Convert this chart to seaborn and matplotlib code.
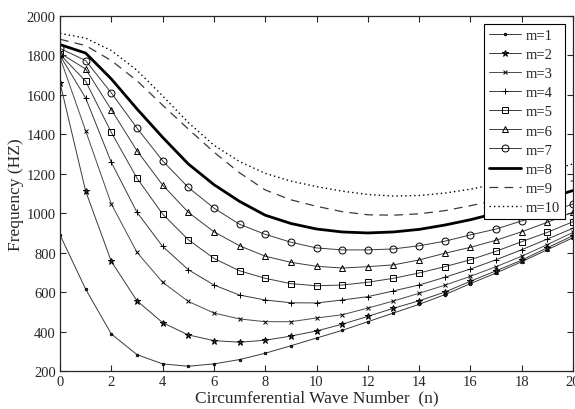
import pandas as pd
import matplotlib
matplotlib.use("Agg")
import matplotlib.pyplot as plt
import seaborn as sns

# circumferential wave number
n = list(range(21))

# natural frequencies (Hz) for each axial mode m
m1 = [890, 615, 388, 283, 236, 224, 236, 258, 290, 328, 367, 406, 450, 494, 538, 587, 643, 697, 754, 815, 876]
m2 = [1662, 1112, 756, 556, 445, 383, 354, 346, 356, 377, 403, 437, 477, 518, 556, 600, 655, 708, 762, 825, 886]
m3 = [1790, 1418, 1047, 802, 650, 553, 494, 464, 450, 450, 469, 485, 519, 555, 594, 635, 680, 729, 782, 841, 903]
m4 = [1800, 1584, 1258, 1005, 832, 714, 636, 585, 560, 546, 545, 560, 577, 606, 636, 675, 717, 764, 815, 869, 924]
m5 = [1806, 1669, 1410, 1178, 996, 866, 771, 708, 670, 643, 632, 636, 650, 670, 697, 729, 764, 807, 856, 903, 957]
m6 = [1812, 1731, 1525, 1317, 1143, 1005, 906, 835, 782, 751, 731, 722, 729, 738, 763, 797, 827, 863, 906, 954, 1005]
m7 = [1836, 1774, 1610, 1432, 1266, 1131, 1026, 944, 893, 853, 824, 814, 814, 819, 835, 858, 890, 920, 961, 1001, 1047]
m8 = [1855, 1812, 1681, 1529, 1385, 1250, 1145, 1060, 990, 948, 920, 905, 900, 905, 918, 940, 967, 1000, 1035, 1075, 1115]
m9 = [1882, 1850, 1774, 1672, 1548, 1427, 1310, 1205, 1118, 1068, 1035, 1008, 992, 990, 997, 1013, 1038, 1066, 1097, 1130, 1165]
m10 = [1912, 1888, 1825, 1725, 1595, 1460, 1345, 1262, 1202, 1163, 1135, 1112, 1095, 1087, 1090, 1102, 1122, 1148, 1178, 1212, 1250]

labels = ["m=1", "m=2", "m=3", "m=4", "m=5", "m=6", "m=7", "m=8", "m=9", "m=10"]
series = [m1, m2, m3, m4, m5, m6, m7, m8, m9, m10]

# long-form table
df = pd.concat([pd.DataFrame({"n": n, "freq": s, "m": lab}) for lab, s in zip(labels, series)])

sns.set_style("ticks")
plt.rcParams["font.family"] = ["Liberation Serif", "DejaVu Serif"]

fig = plt.figure(figsize=(5.75, 4.10), dpi=100)
ax = fig.add_axes([60 / 575, 38 / 410, 513 / 575, 355 / 410])

styles = {
    "m=1": dict(marker=".", markersize=3.5, color="#3a3a3a", lw=0.7),
    "m=2": dict(marker="*", markersize=4.5, color="#3a3a3a", lw=0.7),
    "m=3": dict(marker="x", markersize=3, color="#4a4a4a", lw=0.7),
    "m=4": dict(marker="+", markersize=5, color="#3a3a3a", lw=0.7),
    "m=5": dict(marker="s", markersize=4.5, color="#3a3a3a", lw=0.7, mfc="none"),
    "m=6": dict(marker="^", markersize=5, color="#3a3a3a", lw=0.7, mfc="none"),
    "m=7": dict(marker="o", markersize=5, color="#3a3a3a", lw=0.7, mfc="none"),
    "m=8": dict(marker=None, color="black", lw=2.0),
    "m=9": dict(marker=None, color="#3a3a3a", lw=0.9, linestyle=(0, (7, 5))),
    "m=10": dict(marker=None, color="black", lw=1.0, linestyle=(0, (1, 2.2))),
}

for lab in labels:
    st = styles[lab]
    sub = df[df["m"] == lab]
    kw = dict(color=st["color"], linewidth=st["lw"], label=lab)
    if st["marker"]:
        kw.update(marker=st["marker"], markersize=st["markersize"],
                  markerfacecolor=st.get("mfc", st["color"]),
                  markeredgecolor="black", markeredgewidth=0.7)
    if "linestyle" in st:
        kw["linestyle"] = st["linestyle"]
    sns.lineplot(data=sub, x="n", y="freq", ax=ax, **kw)

ax.set_xlim(0, 20)
ax.set_ylim(200, 2000)
ax.set_xticks(range(0, 21, 2))
ax.set_yticks(range(200, 2001, 200))
ax.tick_params(direction="in", top=True, right=True, labelsize=10.5, length=4, width=0.8, pad=3)
for sp in ax.spines.values():
    sp.set_linewidth(0.9)
    sp.set_visible(True)

ax.set_xlabel("Circumferential Wave Number  (n)", fontsize=12.5, labelpad=1)
ax.set_ylabel("Frequency (HZ)", fontsize=12.5, labelpad=2)

leg = ax.legend(loc="upper right", fontsize=10.5, frameon=True, fancybox=False,
                edgecolor="black", framealpha=1, labelspacing=0.4,
                handlelength=2.2, handletextpad=0.3, borderpad=0.35,
                borderaxespad=0.55)
leg.get_frame().set_linewidth(0.8)

fig.savefig("out.png", dpi=100)
